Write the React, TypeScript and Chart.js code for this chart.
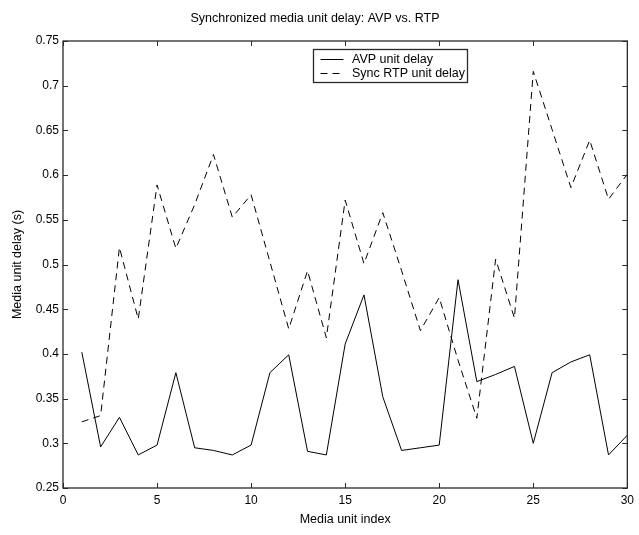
import React, { useEffect, useRef } from "react";
import { Chart, registerables } from "chart.js";

Chart.register(...registerables);

// Media unit index (x) and the two delay series (seconds)
const unitIndex = [
  1, 2, 3, 4, 5, 6, 7, 8, 9, 10, 11, 12, 13, 14, 15,
  16, 17, 18, 19, 20, 21, 22, 23, 24, 25, 26, 27, 28, 29, 30,
];
const avpDelay = [
  0.402, 0.296, 0.329, 0.287, 0.298, 0.379, 0.295, 0.292, 0.287, 0.298,
  0.379, 0.399, 0.291, 0.287, 0.411, 0.466, 0.352, 0.292, 0.295, 0.298,
  0.483, 0.369, 0.377, 0.386, 0.3, 0.379, 0.391, 0.399, 0.287, 0.309,
];
const rtpDelay = [
  0.324, 0.331, 0.519, 0.439, 0.589, 0.518, 0.567, 0.623, 0.553, 0.578,
  0.503, 0.428, 0.493, 0.418, 0.572, 0.501, 0.558, 0.493, 0.426, 0.463,
  0.393, 0.328, 0.506, 0.44, 0.716, 0.651, 0.586, 0.639, 0.573, 0.601,
];
const xTickValues = [0, 5, 10, 15, 20, 25, 30];
const yTickValues = [0.25, 0.3, 0.35, 0.4, 0.45, 0.5, 0.55, 0.6, 0.65, 0.7, 0.75];

const seriesLabels = ["AVP unit delay", "Sync RTP unit delay"];
const chartTitle = "Synchronized media unit delay: AVP vs. RTP";
const xAxisTitle = "Media unit index";
const yAxisTitle = "Media unit delay (s)";

const FONT = "'Liberation Sans', Arial, Helvetica, sans-serif";
const AXIS_COLOR = "#2a2a2a";

// Box around the plot area with short inward tick marks on all four sides
const framePlugin = {
  id: "frameTicks",
  afterDatasetsDraw(chart: any) {
    const { ctx, chartArea, scales } = chart;
    const { left, right, top, bottom } = chartArea;
    const tickLen = 5;
    ctx.save();
    ctx.strokeStyle = AXIS_COLOR;
    ctx.lineWidth = 1;
    ctx.beginPath();
    for (const v of xTickValues) {
      const px = Math.round(scales.x.getPixelForValue(v)) + 0.5;
      ctx.moveTo(px, bottom);
      ctx.lineTo(px, bottom - tickLen);
      ctx.moveTo(px, top);
      ctx.lineTo(px, top + tickLen);
    }
    for (const v of yTickValues) {
      const py = Math.round(scales.y.getPixelForValue(v)) + 0.5;
      ctx.moveTo(left, py);
      ctx.lineTo(left + tickLen, py);
      ctx.moveTo(right, py);
      ctx.lineTo(right - tickLen, py);
    }
    ctx.stroke();
    ctx.lineWidth = 1.3;
    ctx.strokeRect(left, top, right - left, bottom - top);
    ctx.restore();
  },
};

// Boxed legend in the upper middle of the plot
const legendPlugin = {
  id: "boxedLegend",
  afterDraw(chart: any) {
    const { ctx } = chart;
    const bx = 313.5;
    const by = 49.5;
    const bw = 154;
    const bh = 33;
    ctx.save();
    ctx.fillStyle = "#ffffff";
    ctx.fillRect(bx, by, bw, bh);
    ctx.strokeStyle = AXIS_COLOR;
    ctx.lineWidth = 1.3;
    ctx.strokeRect(bx, by, bw, bh);
    ctx.font = `12.5px ${FONT}`;
    ctx.textBaseline = "middle";
    ctx.textAlign = "left";
    chart.data.datasets.forEach((ds: any, i: number) => {
      const ly = by + 10 + i * 14;
      ctx.strokeStyle = "#000";
      ctx.lineWidth = 1;
      ctx.setLineDash(ds.borderDash || []);
      ctx.beginPath();
      ctx.moveTo(bx + 7, ly);
      ctx.lineTo(bx + 30, ly);
      ctx.stroke();
      ctx.setLineDash([]);
      ctx.fillStyle = "#000";
      ctx.fillText(ds.label, bx + 38.5, ly);
    });
    ctx.restore();
  },
};

export default function App() {
  const canvasRef = useRef<HTMLCanvasElement | null>(null);

  useEffect(() => {
    const canvas = canvasRef.current;
    if (!canvas) return;

    const chart = new Chart(canvas, {
      type: "line",
      data: {
        datasets: [
          {
            label: seriesLabels[0],
            data: unitIndex.map((x, i) => ({ x, y: avpDelay[i] })),
            borderColor: "#000",
            borderWidth: 1,
            pointRadius: 0,
            tension: 0,
            fill: false,
          },
          {
            label: seriesLabels[1],
            data: unitIndex.map((x, i) => ({ x, y: rtpDelay[i] })),
            borderColor: "#000",
            borderWidth: 1,
            borderDash: [7, 5],
            pointRadius: 0,
            tension: 0,
            fill: false,
          },
        ],
      },
      options: {
        responsive: false,
        animation: false,
        devicePixelRatio: 1,
        layout: { padding: { left: 0, right: 9, top: 0, bottom: 0 } },
        plugins: {
          legend: { display: false },
          tooltip: { enabled: false },
          title: {
            display: true,
            text: chartTitle,
            color: "#000",
            font: { family: FONT, size: 12.5, weight: "normal" },
            padding: { top: 11, bottom: 15 },
          },
        },
        scales: {
          x: {
            type: "linear",
            min: 0,
            max: 30,
            afterBuildTicks: (scale: any) => {
              scale.ticks = xTickValues.map((v) => ({ value: v }));
            },
            afterFit: (scale: any) => {
              scale.height = 47;
            },
            grid: { display: false, drawTicks: false },
            border: { display: false },
            ticks: {
              color: "#000",
              padding: 5,
              maxRotation: 0,
              font: { family: FONT, size: 12 },
              callback: (v: any) => String(v),
            },
            title: {
              display: true,
              text: xAxisTitle,
              color: "#000",
              font: { family: FONT, size: 12.5 },
              padding: { top: 0, bottom: 8 },
            },
          },
          y: {
            type: "linear",
            min: 0.25,
            max: 0.75,
            afterBuildTicks: (scale: any) => {
              scale.ticks = yTickValues.map((v) => ({ value: v }));
            },
            afterFit: (scale: any) => {
              scale.width = 63;
            },
            grid: { display: false, drawTicks: false },
            border: { display: false },
            ticks: {
              color: "#000",
              padding: 4,
              font: { family: FONT, size: 12 },
              callback: (v: any) => String(Math.round(v * 100) / 100),
            },
            title: {
              display: true,
              text: yAxisTitle,
              color: "#000",
              font: { family: FONT, size: 12.5 },
              padding: { top: 10, bottom: 0 },
            },
          },
        },
      },
      plugins: [framePlugin, legendPlugin],
    });

    return () => {
      chart.destroy();
    };
  }, []);

  return (
    <div
      style={{
        position: "absolute",
        left: 0,
        top: 0,
        width: 639,
        height: 535,
        background: "#fff",
      }}
    >
      <canvas ref={canvasRef} width={639} height={535} style={{ display: "block" }} />
    </div>
  );
}
